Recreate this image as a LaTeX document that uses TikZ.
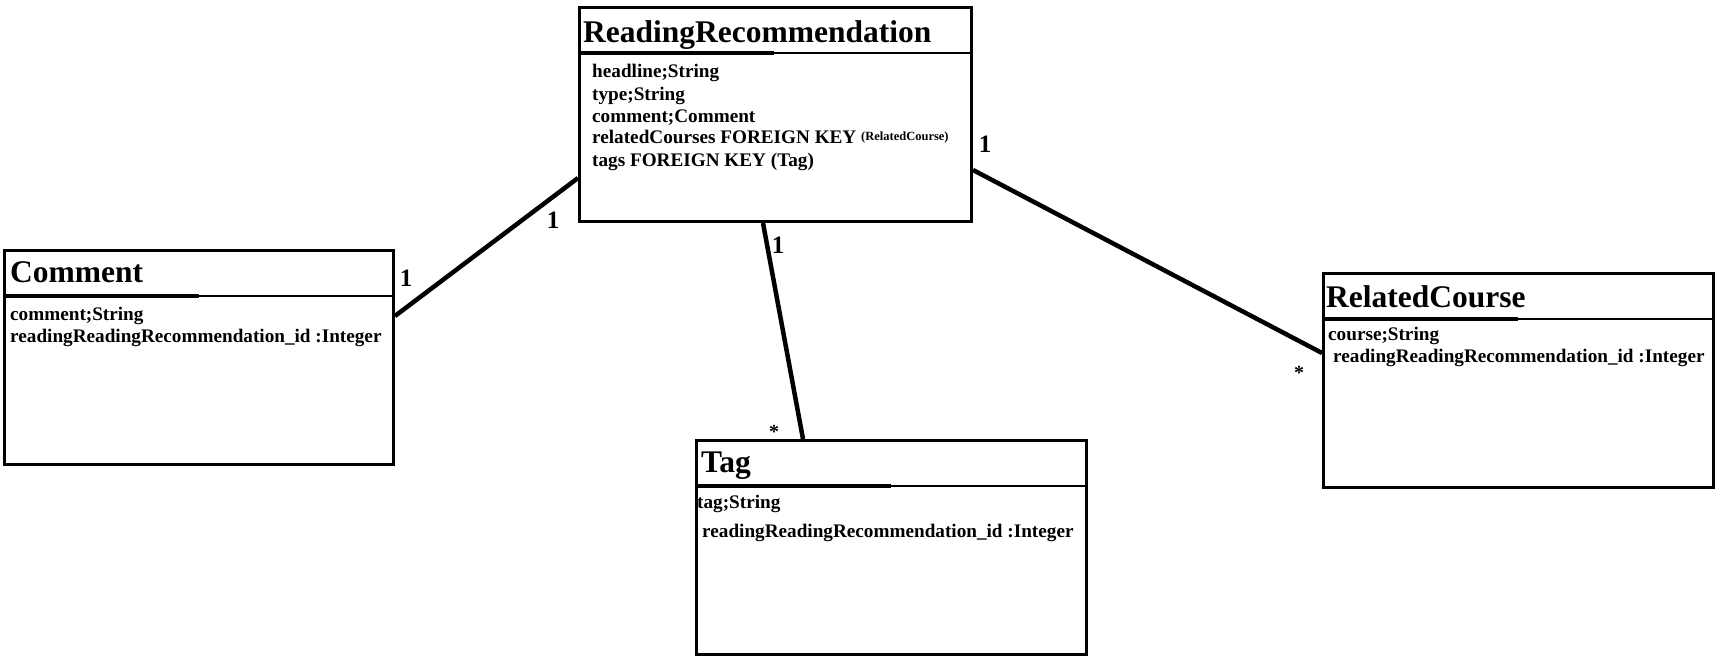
\documentclass[tikz,border=0pt]{standalone}
\usepackage{fontspec}
\setmainfont{Liberation Serif}
\begin{document}
\begin{tikzpicture}[x=1pt,y=-1pt,
  box/.style={draw, line width=3pt, inner sep=0pt, anchor=north west, minimum width=390pt, minimum height=214pt},
  divider/.style={line width=2.4pt},
  underl/.style={line width=3.4pt},
  title/.style={anchor=base west, inner sep=0pt, font=\bfseries\fontsize{31.5}{32}\selectfont},
  attr/.style={anchor=base west, inner sep=0pt, font=\bfseries\fontsize{19.2}{20}\selectfont},
  mult/.style={inner sep=0pt, font=\bfseries\fontsize{25}{26}\selectfont},
  star/.style={inner sep=0pt, font=\bfseries\fontsize{20}{21}\selectfont},
  conn/.style={line width=4.5pt}]
\useasboundingbox (0,0) rectangle (1717,659);

% boxes
\node[box, minimum width=392pt] (rr) at (578,6) {};
\node[box, minimum width=389pt] (cm) at (3,249) {};
\node[box] (tag) at (695,439) {};
\node[box] (rc) at (1322,272) {};

% dividers
\foreach \b in {rr,cm,tag,rc}{
  \draw[divider] ([yshift=-47pt]\b.north west) -- ([yshift=-47pt]\b.north east);
  \draw[underl] ([yshift=-47pt]\b.north west) -- ([xshift=196pt,yshift=-47pt]\b.north west);
}

% titles
\node[title] (rrT) at (583,42) {ReadingRecommendation};
\node[title] (cmT) at (10,282) {Comment};
\node[title] (tagT) at (701,472) {Tag};
\node[title] (rcT) at (1326,307) {RelatedCourse};

% attributes
\node[attr] (rr1) at (592,77) {headline;String};
\node[attr] (rr2) at (592,100) {type;String};
\node[attr] (rr3) at (592,122) {comment;Comment};
\node[attr] (rr4) at (592,143) {relatedCourses FOREIGN KEY \raisebox{3pt}{\bfseries\fontsize{12.5}{13}\selectfont(RelatedCourse)}};
\node[attr] (rr5) at (592,166) {tags FOREIGN KEY (Tag)};

\node[attr] (cm1) at (10,320) {comment;String};
\node[attr] (cm2) at (10,342) {readingReadingRecommendation\_id :Integer};

\node[attr] (tag1) at (697,508) {tag;String};
\node[attr] (tag2) at (702,537) {readingReadingRecommendation\_id :Integer};

\node[attr] (rc1) at (1328,340) {course;String};
\node[attr] (rc2) at (1333,362) {readingReadingRecommendation\_id :Integer};

% connector end points on the box borders
\coordinate (cmE) at ([yshift=-67pt]cm.north east);
\coordinate (rrW) at ([yshift=-172pt]rr.north west);
\coordinate (rrS) at ([xshift=185pt]rr.south west);
\coordinate (tagN) at ([xshift=108pt]tag.north west);
\coordinate (rrE) at ([yshift=-164pt]rr.north east);
\coordinate (rcW) at ([yshift=-81pt]rc.north west);

\draw[conn] (cmE) -- (rrW);
\draw[conn] (rrS) -- (tagN);
\draw[conn] (rrE) -- (rcW);

% multiplicities
\node[mult] (m1) at (406,278) {1};
\node[mult] (m2) at (553,220) {1};
\node[mult] (m3) at (778,245) {1};
\node[star] (m4) at (774,432) {*};
\node[mult] (m5) at (985,144) {1};
\node[star] (m6) at (1299,373) {*};
\end{tikzpicture}
\end{document}
